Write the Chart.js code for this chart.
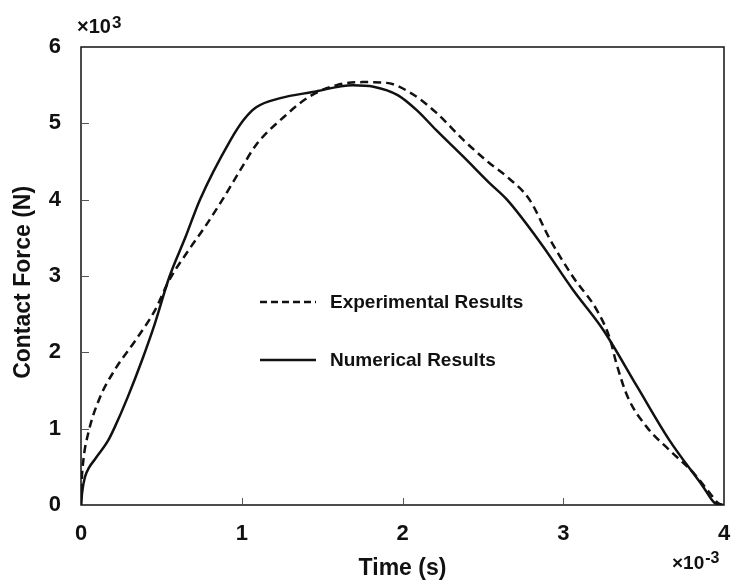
<!DOCTYPE html>
<html>
<head>
<meta charset="utf-8">
<script src="https://cdn.jsdelivr.net/npm/chart.js@4.4.1/dist/chart.umd.min.js"></script>
<style>
  html, body { margin: 0; padding: 0; background: #fff; }
  #wrap { width: 731px; height: 586px; }
</style>
</head>
<body>
<div id="wrap"><canvas id="contact"></canvas></div>
<script>
// time in units of 1e-3 s, force in units of 1e3 N
const expTime  = [0, 0.004, 0.015, 0.045, 0.11, 0.21, 0.34, 0.46, 0.55, 0.67, 0.77, 0.88, 1.00, 1.09, 1.26, 1.42, 1.59, 1.75, 1.90, 2.05, 2.21, 2.38, 2.54, 2.65, 2.79, 2.92, 3.06, 3.21, 3.29, 3.33, 3.40, 3.52, 3.66, 3.81, 3.91, 3.96, 3.99];
const expForce = [0, 0.29, 0.59, 0.94, 1.37, 1.77, 2.16, 2.55, 2.95, 3.34, 3.64, 4.00, 4.42, 4.72, 5.08, 5.35, 5.50, 5.54, 5.53, 5.40, 5.14, 4.78, 4.48, 4.30, 4.00, 3.47, 2.99, 2.55, 2.18, 1.86, 1.42, 1.02, 0.72, 0.42, 0.16, 0.03, 0];

const numTime  = [0, 0.008, 0.025, 0.05, 0.087, 0.17, 0.21, 0.29, 0.38, 0.46, 0.55, 0.65, 0.74, 0.93, 1.01, 1.09, 1.24, 1.44, 1.69, 1.82, 1.97, 2.09, 2.21, 2.38, 2.54, 2.65, 2.86, 3.06, 3.25, 3.46, 3.66, 3.87, 3.94, 3.99];
const numForce = [0, 0.18, 0.37, 0.49, 0.60, 0.85, 1.02, 1.41, 1.90, 2.38, 2.99, 3.51, 4.00, 4.78, 5.04, 5.21, 5.33, 5.41, 5.50, 5.48, 5.37, 5.17, 4.91, 4.56, 4.22, 4.00, 3.43, 2.82, 2.29, 1.55, 0.85, 0.24, 0.03, 0];

const seriesNames = ['Experimental Results', 'Numerical Results'];
const xTicks = [0, 1, 2, 3, 4];
const yTicks = [0, 1, 2, 3, 4, 5, 6];

const toPoints = (xs, ys) => xs.map((x, i) => ({ x: x, y: ys[i] }));
const FONT = 'Arial, "Liberation Sans", sans-serif';

// box, inward tick marks, exponent labels and the inside legend
const decorations = {
    id: 'decorations',
    afterDraw(chart) {
        const { ctx, chartArea: a, scales } = chart;
        ctx.save();
        ctx.strokeStyle = '#111';
        ctx.lineWidth = 1.5;
        ctx.strokeRect(a.left, a.top, a.right - a.left, a.bottom - a.top);

        ctx.lineWidth = 1;
        ctx.strokeStyle = '#555';
        scales.y.ticks.forEach(t => {
            if (t.value <= 0 || t.value >= 6) return;
            const py = Math.round(scales.y.getPixelForValue(t.value)) + 0.5;
            ctx.beginPath(); ctx.moveTo(a.left, py); ctx.lineTo(a.left + 8, py); ctx.stroke();
        });
        scales.x.ticks.forEach(t => {
            if (t.value <= 0 || t.value >= 4) return;
            const px = Math.round(scales.x.getPixelForValue(t.value)) + 0.5;
            ctx.beginPath(); ctx.moveTo(px, a.bottom); ctx.lineTo(px, a.bottom - 7); ctx.stroke();
        });

        // exponents
        ctx.fillStyle = '#111';
        ctx.textBaseline = 'alphabetic';
        ctx.textAlign = 'left';
        ctx.font = 'bold 20px ' + FONT;
        ctx.fillText('×10', 77, 33);
        let w = ctx.measureText('×10').width;
        ctx.font = 'bold 17px ' + FONT;
        ctx.fillText('3', 78 + w, 28);

        ctx.font = 'bold 19px ' + FONT;
        ctx.fillText('×10', 672, 569);
        w = ctx.measureText('×10').width;
        ctx.font = 'bold 16px ' + FONT;
        ctx.fillText('-3', 673 + w, 563);

        // legend
        const items = [
            { label: seriesNames[0], dash: [7, 4], y: 302 },
            { label: seriesNames[1], dash: [], y: 360 }
        ];
        items.forEach(it => {
            ctx.setLineDash(it.dash);
            ctx.lineWidth = 2.5;
            ctx.strokeStyle = '#111';
            ctx.beginPath(); ctx.moveTo(260, it.y); ctx.lineTo(316, it.y); ctx.stroke();
            ctx.setLineDash([]);
            ctx.font = 'bold 19px ' + FONT;
            ctx.textBaseline = 'middle';
            ctx.fillText(it.label, 330, it.y + 1);
        });
        ctx.restore();
    }
};

new Chart(document.getElementById('contact').getContext('2d'), {
    type: 'line',
    data: {
        datasets: [
            {
                label: seriesNames[0],
                data: toPoints(expTime, expForce),
                borderColor: '#111',
                borderWidth: 2.5,
                borderDash: [8, 5],
                pointRadius: 0,
                cubicInterpolationMode: 'monotone',
                fill: false
            },
            {
                label: seriesNames[1],
                data: toPoints(numTime, numForce),
                borderColor: '#111',
                borderWidth: 2.5,
                pointRadius: 0,
                cubicInterpolationMode: 'monotone',
                fill: false
            }
        ]
    },
    options: {
        responsive: true,
        maintainAspectRatio: false,
        animation: false,
        layout: { padding: { left: 0, top: 47, right: 7, bottom: 0 } },
        plugins: {
            legend: { display: false },
            tooltip: { enabled: false }
        },
        scales: {
            x: {
                type: 'linear',
                min: 0,
                max: 4,
                afterBuildTicks: scale => { scale.ticks = xTicks.map(v => ({ value: v })); },
                afterFit: scale => {
                    scale.height = 81;
                    scale.paddingLeft = 0;
                    scale.paddingRight = 0;
                },
                grid: { display: false, drawTicks: false },
                border: { display: false },
                ticks: {
                    padding: 16,
                    color: '#111',
                    maxRotation: 0,
                    font: { family: FONT, size: 22, weight: 'bold' }
                },
                title: {
                    display: true,
                    text: 'Time (s)',
                    color: '#111',
                    padding: { top: 0, bottom: 4 },
                    font: { family: FONT, size: 23, weight: 'bold' }
                }
            },
            y: {
                min: 0,
                max: 6,
                afterBuildTicks: scale => { scale.ticks = yTicks.map(v => ({ value: v })); },
                afterFit: scale => { scale.width = 81; },
                grid: { display: false, drawTicks: false },
                border: { display: false },
                ticks: {
                    padding: 20,
                    color: '#111',
                    font: { family: FONT, size: 22, weight: 'bold' }
                },
                title: {
                    display: true,
                    text: 'Contact Force (N)  ',
                    color: '#111',
                    padding: { top: 10, bottom: 0 },
                    font: { family: FONT, size: 23, weight: 'bold' }
                }
            }
        }
    },
    plugins: [decorations]
});
</script>
</body>
</html>
